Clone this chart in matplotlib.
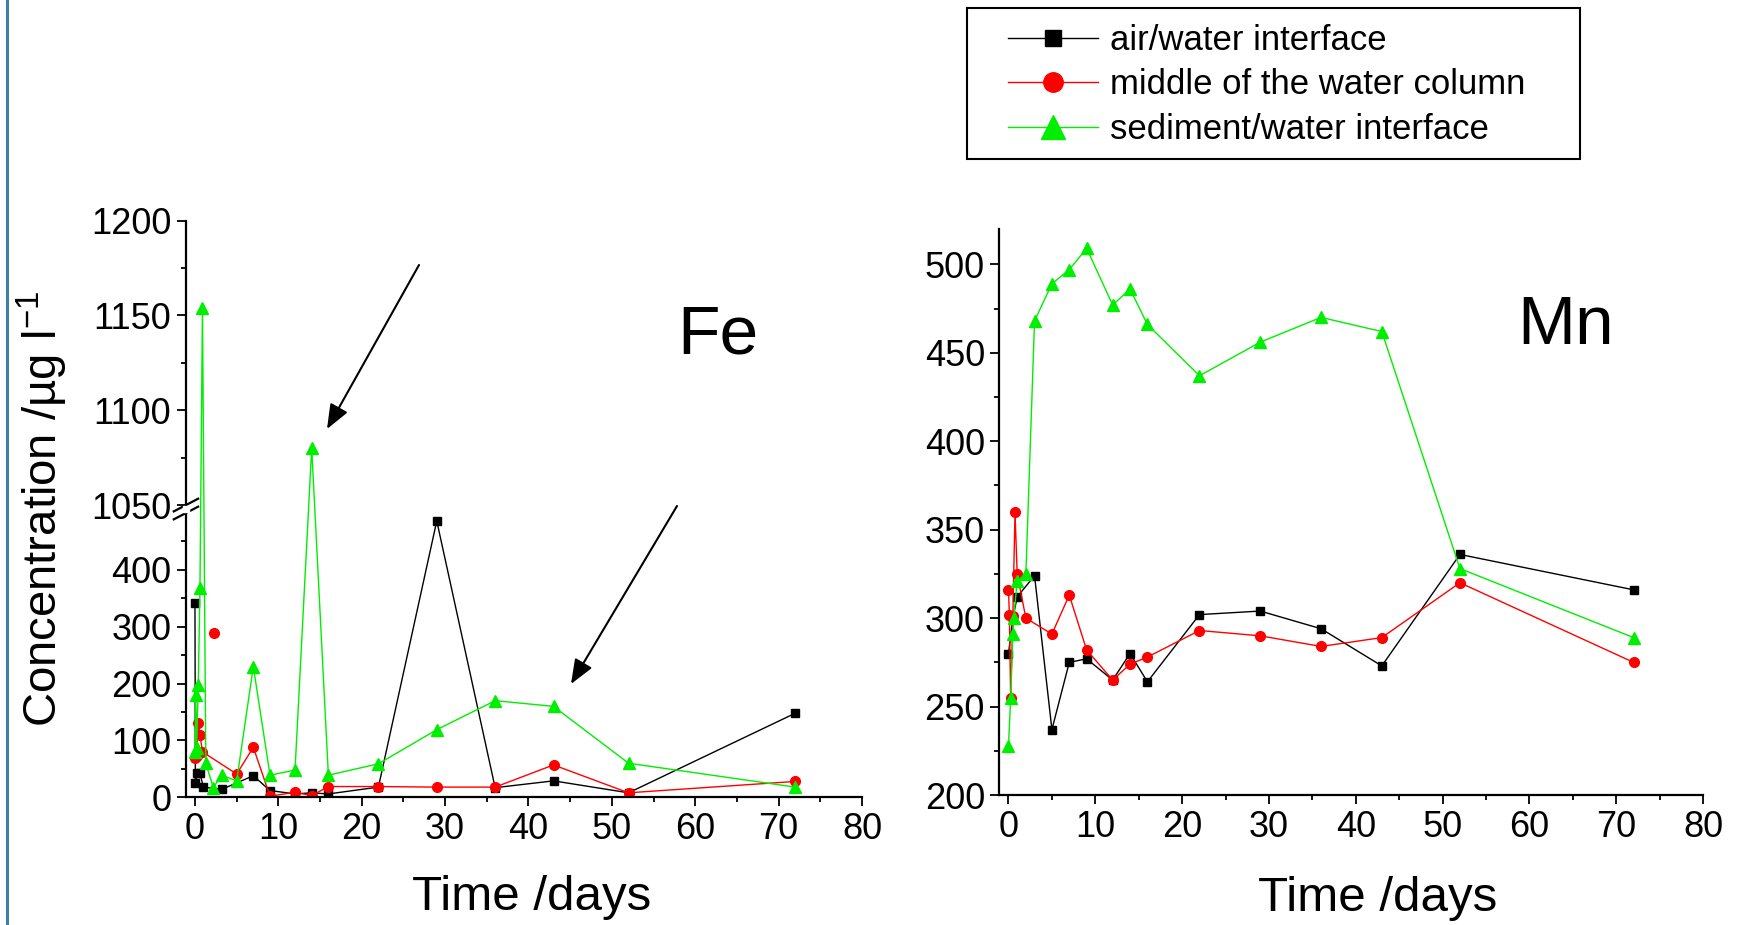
import numpy as np
import matplotlib
matplotlib.use("Agg")
import matplotlib.pyplot as plt
from matplotlib.lines import Line2D
from matplotlib.patches import Rectangle

plt.rcParams['font.family'] = ['Liberation Sans', 'DejaVu Sans']
plt.rcParams['mathtext.fontset'] = 'custom'
plt.rcParams['mathtext.rm'] = 'Liberation Sans'
plt.rcParams['mathtext.it'] = 'Liberation Sans:italic'

# --- Fe data (time in days, concentration in ug/l) ---
fe_air_t = [0, 0.05, 0.3, 0.6, 1.0, 3.2, 7, 9, 12, 14, 16, 22, 29, 36, 43, 52, 72]
fe_air_v = [342, 25, 43, 43, 18, 14, 38, 12, 6, 8, 6, 18, 486, 17, 29, 8, 148]

fe_mid_t = [0, 0.2, 0.4, 0.6, 0.9, 2.3, 5, 7, 9, 12, 14, 16, 22, 29, 36, 43, 52, 72]
fe_mid_v = [69, 73, 130, 110, 80, 289, 41, 88, 2, 9, 3, 19, 19, 18, 18, 57, 8, 28]
fe_mid_joined = [1, 1, 1, 1, 1, 0, 1, 1, 1, 1, 1, 1, 1, 1, 1, 1, 1, 1]

fe_sed_t = [0, 0.1, 0.2, 0.4, 0.6, 0.9, 1.3, 2.2, 3.2, 5, 7, 9, 12, 14, 16, 22, 29, 36, 43, 52, 72]
fe_sed_v = [80, 180, 87, 198, 369, 1154, 60, 17, 39, 29, 230, 39, 48, 1080, 39, 59, 119, 170, 160, 60, 18]

# --- Mn data ---
mn_air_t = [0, 0.5, 1, 3, 5, 7, 9, 12, 14, 16, 22, 29, 36, 43, 52, 72]
mn_air_v = [280, 300, 312, 324, 237, 275, 277, 265, 280, 264, 302, 304, 294, 273, 336, 316]

mn_mid_t = [0, 0.1, 0.25, 0.5, 0.75, 1, 2, 5, 7, 9, 12, 14, 16, 22, 29, 36, 43, 52, 72]
mn_mid_v = [316, 302, 255, 301, 360, 325, 300, 291, 313, 282, 265, 274, 278, 293, 290, 284, 289, 320, 275]

mn_sed_t = [0, 0.25, 0.5, 0.6, 1, 2, 3, 5, 7, 9, 12, 14, 16, 22, 29, 36, 43, 52, 72]
mn_sed_v = [228, 255, 291, 300, 321, 325, 468, 489, 497, 509, 477, 486, 466, 437, 456, 470, 462, 328, 289]

labels = ['air/water interface', 'middle of the water column', 'sediment/water interface']
colors = ['black', '#ff0000', '#00ee00']
markers = ['s', 'o', '^']
msizes = [6, 7, 8.5]

# broken y axis for Fe: 0-500 and 1050-1200
LO, HI, TOP = 500.0, 1050.0, 1200.0
GAP = 0.028


def fwd(y):
    y = np.asarray(y, dtype=float)
    return np.where(y <= LO, y / LO,
                    np.where(y < HI, 1 + GAP * (y - LO) / (HI - LO),
                             1 + GAP + (y - HI) / (TOP - HI)))


def inv(u):
    u = np.asarray(u, dtype=float)
    return np.where(u <= 1, u * LO,
                    np.where(u < 1 + GAP, LO + (u - 1) / GAP * (HI - LO),
                             HI + (u - 1 - GAP) * (TOP - HI)))


fig = plt.figure(figsize=(17.51, 9.25), dpi=100)
ax1 = fig.add_axes([0.1062, 0.138, 0.3861, 0.6234])
ax2 = fig.add_axes([0.5708, 0.1405, 0.4018, 0.612])

# Fe
ax1.set_yscale('function', functions=(fwd, inv))
ax1.plot(fe_air_t, fe_air_v, color=colors[0], lw=1, marker=markers[0], ms=msizes[0])
m = np.array(fe_mid_joined, dtype=bool)
ax1.plot(np.array(fe_mid_t)[m], np.array(fe_mid_v)[m], color=colors[1], lw=1)
ax1.plot(fe_mid_t, fe_mid_v, ls='none', color=colors[1], marker=markers[1], ms=msizes[1])
ax1.plot(fe_sed_t, fe_sed_v, color=colors[2], lw=1, marker=markers[2], ms=msizes[2])
ax1.set_xlim(-1.08, 80)
ax1.set_ylim(0, 1200)
ax1.set_yticks([0, 100, 200, 300, 400, 1050, 1100, 1150, 1200])
ax1.set_yticks([50, 150, 250, 350, 450, 1075, 1125, 1175], minor=True)
ax1.set_xticks(np.arange(0, 81, 10))
ax1.set_xticks(np.arange(5, 80, 10), minor=True)

# break marks on the Fe y axis
yb1 = 1.0 / (2 + GAP)
yb2 = (1 + GAP) / (2 + GAP)
for yb in (yb1, yb2):
    ax1.plot([-0.018, 0.018], [yb - 0.011, yb + 0.011], transform=ax1.transAxes,
             color='black', lw=1.6, clip_on=False)
ax1.add_patch(Rectangle((-0.004, yb1 + 0.002), 0.008, yb2 - yb1 - 0.004,
                        transform=ax1.transAxes, color='white', clip_on=False, zorder=5))

# Mn
ax2.plot(mn_air_t, mn_air_v, color=colors[0], lw=1, marker=markers[0], ms=msizes[0])
ax2.plot(mn_mid_t, mn_mid_v, color=colors[1], lw=1, marker=markers[1], ms=msizes[1])
ax2.plot(mn_sed_t, mn_sed_v, color=colors[2], lw=1, marker=markers[2], ms=msizes[2])
ax2.set_xlim(-1.04, 80)
ax2.set_ylim(200, 520)
ax2.set_yticks(np.arange(200, 501, 50))
ax2.set_yticks(np.arange(225, 520, 50), minor=True)
ax2.set_xticks(np.arange(0, 81, 10))
ax2.set_xticks(np.arange(5, 80, 10), minor=True)

for ax in (ax1, ax2):
    for s in ('top', 'right'):
        ax.spines[s].set_visible(False)
    for s in ('left', 'bottom'):
        ax.spines[s].set_linewidth(1.6)
    ax.tick_params(which='major', direction='out', length=6.5, width=1.3, labelsize=26, pad=4)
    ax.tick_params(which='minor', direction='out', length=3.6, width=1.3)
    ax.set_xlabel('Time /days', fontsize=35.5)

ax1.xaxis.set_label_coords(0.512, -0.135)
ax2.xaxis.set_label_coords(0.538, -0.143)
ax1.set_ylabel('Concentration /µg l$^{-1}$', fontsize=34)
ax1.yaxis.set_label_coords(-0.172, 0.5)

fig.text(718 / 1751, 1 - 335 / 925, 'Fe', fontsize=50, ha='center', va='center')
fig.text(1566 / 1751, 1 - 326 / 925, 'Mn', fontsize=50, ha='center', va='center')

# arrows
arr = dict(arrowstyle='-|>,head_length=0.5,head_width=0.2', mutation_scale=30,
           lw=1.5, color='black', shrinkA=0, shrinkB=0)
ax1.annotate('', xy=(327, 925 - 429), xytext=(419, 925 - 265),
             xycoords='figure pixels', textcoords='figure pixels', arrowprops=arr)
ax1.annotate('', xy=(571, 925 - 684), xytext=(677, 925 - 506),
             xycoords='figure pixels', textcoords='figure pixels', arrowprops=arr)

# legend
handles = [Line2D([], [], color=c, lw=1, marker=mk, ms=ms)
           for c, mk, ms in zip(colors, markers, msizes)]
fig.legend(handles, labels, loc='upper left', bbox_to_anchor=(1008 / 1751, 1 - 24 / 925),
           frameon=False, fontsize=25, handlelength=2.58, handletextpad=0.37,
           labelspacing=0.33, borderpad=0, borderaxespad=0, markerscale=2.0)
fig.patches.append(Rectangle((967 / 1751, 1 - 159 / 925), 613 / 1751, 151 / 925,
                             transform=fig.transFigure, fill=False, ec='black', lw=1.5))

# left blue border
fig.add_artist(Line2D([7 / 1751, 7 / 1751], [0, 1], transform=fig.transFigure,
                      color='#3f7fa3', lw=2.2))

fig.savefig('out.png', dpi=100)
